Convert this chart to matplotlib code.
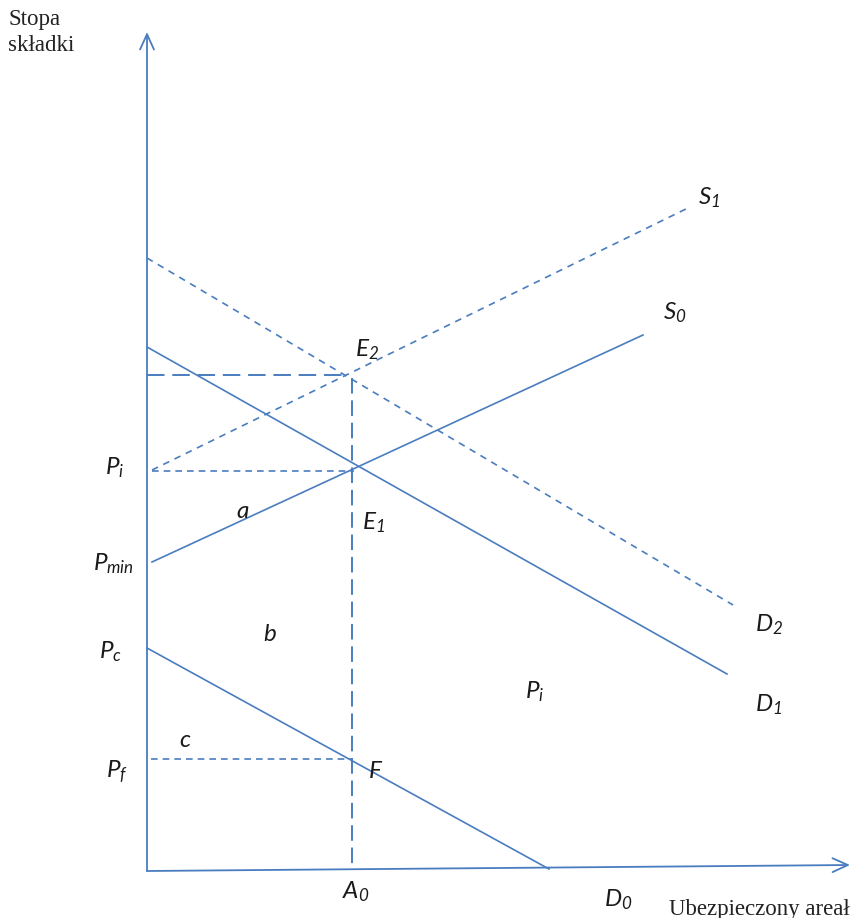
import matplotlib.pyplot as plt

plt.rcParams['mathtext.fontset'] = 'custom'
plt.rcParams['mathtext.rm'] = 'Lato:italic'
plt.rcParams['mathtext.it'] = 'Lato:italic'

# curves of the diagram (picture units, y downwards)
s0_x = [152, 643]
s0_y = [562, 335]
s1_x = [152, 690]
s1_y = [470, 207]
d0_x = [147, 549]
d0_y = [648, 869]
d1_x = [147, 727]
d1_y = [347, 674]
d2_x = [147, 733]
d2_y = [258, 605]

# guide lines
e2_h_x = [147, 348]
e2_h_y = [375, 375]
a0_v_x = [352, 352]
a0_v_y = [378, 869]
pi_h_x = [152, 354]
pi_h_y = [471, 471]
pf_h_x = [151, 353]
pf_h_y = [759, 759]

labels = ['$S_1$', '$S_0$', '$E_2$', '$P_i$', '$a$', '$E_1$', '$P_{min}$', '$D_2$',
          '$b$', '$P_c$', '$P_i$', '$D_1$', '$c$', '$P_f$', '$F$', '$A_0$', '$D_0$']
label_x = [709, 675, 367, 115, 243, 373, 113, 769, 270, 110, 535, 769, 185, 117, 376, 356, 618]
label_y = [198, 313, 350, 468, 511, 523, 564, 625, 634, 652, 692, 705, 740, 772, 771, 892, 900]

col = '#4a7dbf'

fig = plt.figure(figsize=(8.57, 9.18), dpi=100)
ax = fig.add_axes([0, 0, 1, 1])
ax.set_xlim(0, 857)
ax.set_ylim(918, 0)
ax.axis('off')

# axes with open arrow heads
ax.annotate('', xy=(147, 32), xytext=(147, 871),
            arrowprops=dict(arrowstyle='->,head_length=1.1,head_width=0.5', color=col, lw=1.3,
                            shrinkA=0, shrinkB=0))
ax.annotate('', xy=(850, 865), xytext=(147, 871),
            arrowprops=dict(arrowstyle='->,head_length=1.1,head_width=0.5', color=col, lw=1.3,
                            shrinkA=0, shrinkB=0))

ax.plot(s0_x, s0_y, color=col, lw=1.2)
ax.plot(d0_x, d0_y, color=col, lw=1.2)
ax.plot(d1_x, d1_y, color=col, lw=1.2)
ax.plot(s1_x, s1_y, color=col, lw=1.2, dashes=(4, 3.5))
ax.plot(d2_x, d2_y, color=col, lw=1.2, dashes=(4, 3.5))

ax.plot(e2_h_x, e2_h_y, color=col, lw=1.4, dashes=(9, 4))
ax.plot(a0_v_x, a0_v_y, color=col, lw=1.4, dashes=(8, 3.5))
ax.plot(pi_h_x, pi_h_y, color=col, lw=1.2, dashes=(4, 3))
ax.plot(pf_h_x, pf_h_y, color=col, lw=1.2, dashes=(4, 3))

for t, x, y in zip(labels, label_x, label_y):
    ax.text(x, y, t, fontsize=17.5, color='#1a1a1a', ha='center', va='center')

ax.text(8, 9, 'Stopa\nskładki', fontsize=16.5, family='Liberation Serif',
        color='#222222', ha='left', va='top', linespacing=1.3)
ax.text(669, 909, 'Ubezpieczony areał', fontsize=16.5, family='Liberation Serif',
        color='#222222', ha='left', va='center')

fig.savefig('out.png', dpi=100)
